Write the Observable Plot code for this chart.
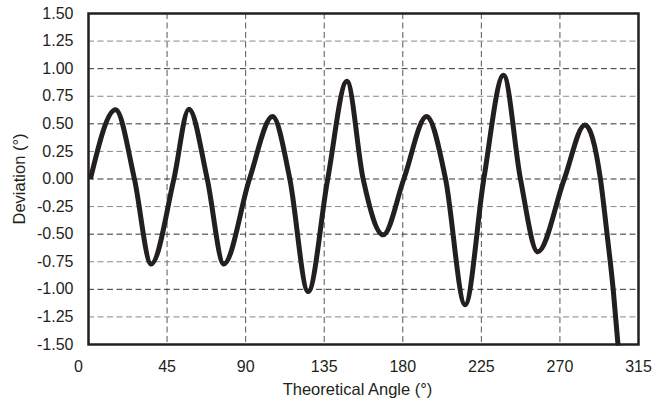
<!DOCTYPE html>
<html>
<head>
<meta charset="utf-8">
<script src="https://cdn.jsdelivr.net/npm/d3@7"></script>
<script src="https://cdn.jsdelivr.net/npm/@observablehq/plot@0.6"></script>
<style>
  html, body { margin: 0; padding: 0; background: #fff; }
</style>
</head>
<body>
<div id="chart"></div>
<script>
const angles = [1.1, 15.5, 26.3, 35.9, 48.9, 57.5, 68, 77.5, 92.2, 105.4, 115.3, 125.8, 137, 148, 157.3, 168.8, 180.6, 193.6, 204.5, 215.7, 226.4, 237.7, 247.4, 257.3, 272.5, 284.3, 293.2, 297, 300.5, 303.3];
const deviations = [0, 0.627, 0, -0.77, 0, 0.633, 0, -0.77, 0, 0.566, 0, -1.02, 0, 0.885, 0, -0.506, 0, 0.566, 0, -1.14, 0, 0.94, 0, -0.66, 0, 0.49, 0, -0.5, -1.0, -1.51];
const xTicks = [0, 45, 90, 135, 180, 225, 270, 315];
const yTicks = [-1.5, -1.25, -1.0, -0.75, -0.5, -0.25, 0, 0.25, 0.5, 0.75, 1.0, 1.25, 1.5];
const xTitle = "Theoretical Angle (°)";
const yTitle = "Deviation (°)";

const data = angles.map((a, i) => ({angle: a, dev: deviations[i]}));
const ink = "#231f20";
const dash = "6,3.5";
const inner = yTicks.slice(1, -1);
const yMajor = inner.filter(v => Math.abs(v * 2 - Math.round(v * 2)) < 1e-9);
const yMinor = inner.filter(v => Math.abs(v * 2 - Math.round(v * 2)) >= 1e-9);

const chart = Plot.plot({
  width: 663,
  height: 405,
  marginLeft: 88,
  marginRight: 25,
  marginTop: 13,
  marginBottom: 61,
  x: {domain: [0, 315]},
  y: {domain: [-1.5, 1.5]},
  style: {fontFamily: "'Liberation Sans', Arial, sans-serif", fontSize: "16px", color: ink, background: "white"},
  marks: [
    Plot.ruleX(xTicks.slice(1, -1), {stroke: "#555", strokeWidth: 1, strokeDasharray: dash}),
    Plot.ruleY(yMinor, {stroke: "#888", strokeWidth: 1, strokeDasharray: dash}),
    Plot.ruleY(yMajor, {stroke: "#333", strokeWidth: 1, strokeDasharray: dash}),
    Plot.line(data, {x: "angle", y: "dev", curve: "monotone-x", stroke: ink, strokeWidth: 5, strokeLinecap: "butt", strokeLinejoin: "round"}),
    Plot.frame({stroke: ink, strokeWidth: 2.5}),
    Plot.axisX({ticks: xTicks.slice(1), tickSize: 0, tickPadding: 16, label: null, tickFormat: d => String(d)}),
    Plot.axisX({ticks: [0], tickSize: 0, tickPadding: 16, dx: -10, label: null, tickFormat: d => String(d)}),
    Plot.axisY({ticks: yTicks, tickSize: 0, tickPadding: 15, label: null, tickFormat: d => d.toFixed(2)}),
    Plot.text([xTitle], {frameAnchor: "bottom", lineAnchor: "middle", textAnchor: "middle", dy: 45, dx: -6, fill: ink, fontSize: 16.5}),
    Plot.text([yTitle], {frameAnchor: "left", lineAnchor: "middle", textAnchor: "middle", rotate: -90, dx: -69, fill: ink, fontSize: 16.5})
  ]
});
document.getElementById("chart").appendChild(chart);
</script>
</body>
</html>
